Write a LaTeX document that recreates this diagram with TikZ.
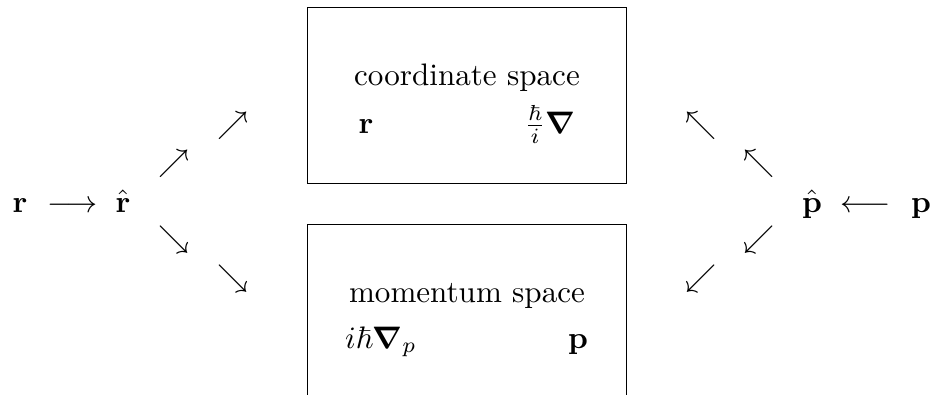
\documentclass[tikz,border=0pt]{standalone}
\usepackage{amsmath,amssymb,bm}
\usetikzlibrary{positioning}
\tikzset{
  spacebox/.style={draw, line width=0.3pt, minimum width=3.616cm, minimum height=1.989cm, inner sep=0pt},
  sym/.style={inner sep=0pt, anchor=base},
  diag/.style={inner sep=0pt},
}

\begin{document}
\begin{tikzpicture}[x=0.0113cm, y=-0.0113cm]
\useasboundingbox (0,0) rectangle (933,394);

% ================= the two spaces =================
\node[spacebox] (coordbox) at (467,95) {};
\node[spacebox] (momentbox) at (467,312) {};

\node[sym] (coordtitle) at (467,85) {coordinate space};
\node[sym] (rop) at (366,133) {$\mathbf{r}$};
\node[sym] (pop) at (550,133) {$\frac{\hbar}{i}\bm{\nabla}$};

\node[sym] (momtitle) at (467,302) {momentum space};
\node[sym] (rmom) at (381,348) {$i\hbar\bm{\nabla}_p$};
\node[sym] (pmom) at (578,348) {$\mathbf{p}$};

% ================= position operator (left) =================
\node[sym] (r) at (20,212) {$\mathbf{r}$};
\node[sym] (rto) at (73,212) {$\longrightarrow$};
\node[sym] (rhat) at (123,212) {$\hat{\mathbf{r}}$};
\node[diag] (rne1) at (174,164) {$\nearrow$};
\node[diag] (rne2) at (233,126) {$\nearrow$};
\node[diag] (rse1) at (174,240) {$\searrow$};
\node[diag] (rse2) at (233,279) {$\searrow$};

% ================= momentum operator (right) =================
\node[sym] (p) at (921,212) {$\mathbf{p}$};
\node[sym] (pto) at (866,212) {$\longleftarrow$};
\node[sym] (phat) at (812,212) {$\hat{\mathbf{p}}$};
\node[diag] (pnw1) at (759,164) {$\nwarrow$};
\node[diag] (pnw2) at (701,126) {$\nwarrow$};
\node[diag] (psw1) at (759,240) {$\swarrow$};
\node[diag] (psw2) at (701,279) {$\swarrow$};

\end{tikzpicture}
\end{document}
